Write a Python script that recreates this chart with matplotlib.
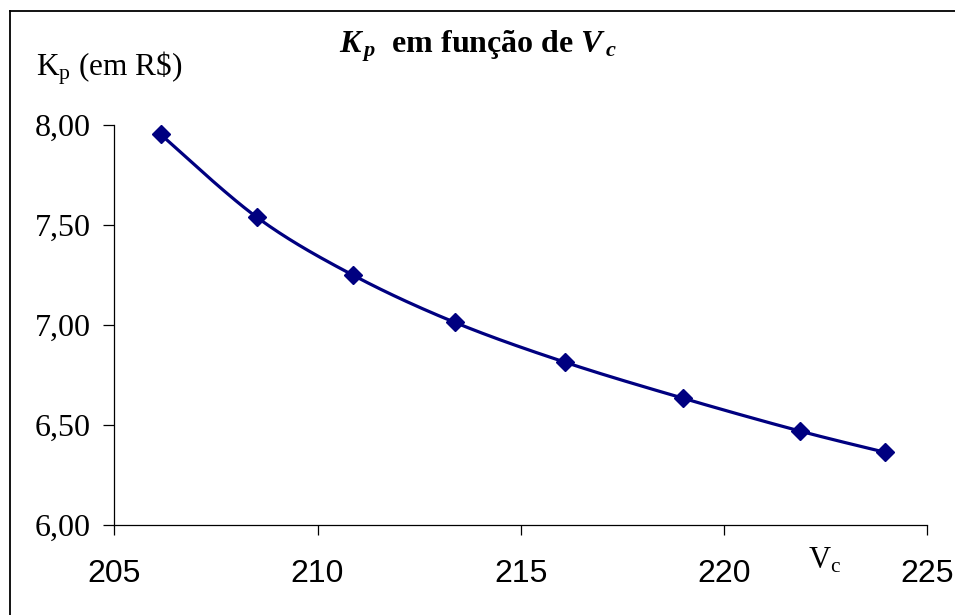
import numpy as np
import matplotlib
matplotlib.use("Agg")
import matplotlib.pyplot as plt
from matplotlib.lines import Line2D

# Kp (R$) as a function of Vc
vc = [206.14, 208.51, 210.87, 213.37, 216.09, 218.99, 221.86, 223.97]
kp = [7.953, 7.538, 7.249, 7.013, 6.813, 6.633, 6.469, 6.362]

x_ticks = [205, 210, 215, 220, 225]
y_ticks = [6.00, 6.50, 7.00, 7.50, 8.00]
y_tick_labels = ["6,00", "6,50", "7,00", "7,50", "8,00"]

plt.rcParams["mathtext.fontset"] = "custom"
plt.rcParams["mathtext.rm"] = "Liberation Serif"
plt.rcParams["mathtext.it"] = "Liberation Serif:italic"
plt.rcParams["mathtext.bf"] = "Liberation Serif:bold"
plt.rcParams["mathtext.bfit"] = "Liberation Serif:bold:italic"

NAVY = "#000080"


def smooth_curve(xs, ys, n=40):
    """Bezier smoothing through every point (tension 1/6)."""
    p = np.column_stack([xs, ys]).astype(float)
    ext = np.vstack([p[0], p, p[-1]])
    out = []
    t = np.linspace(0, 1, n)[:, None]
    for i in range(len(p) - 1):
        p0, p1 = ext[i + 1], ext[i + 2]
        c1 = p0 + (ext[i + 2] - ext[i]) / 6.0
        c2 = p1 - (ext[i + 3] - ext[i + 1]) / 6.0
        seg = ((1 - t) ** 3) * p0 + 3 * ((1 - t) ** 2) * t * c1 \
            + 3 * (1 - t) * t ** 2 * c2 + t ** 3 * p1
        out.append(seg if i == 0 else seg[1:])
    seg = np.vstack(out)
    return seg[:, 0], seg[:, 1]


fig = plt.figure(figsize=(9.55, 6.15), dpi=100)
ax = fig.add_axes([0.1197, 0.1468, 0.8513, 0.6499])

sx, sy = smooth_curve(vc, kp)
ax.plot(sx, sy, color=NAVY, lw=2.3, solid_capstyle="round", zorder=2)
ax.plot(vc, kp, linestyle="none", marker="D", markersize=9.5,
        color=NAVY, markeredgecolor=NAVY, zorder=3)

ax.set_xlim(205, 225)
ax.set_ylim(6.0, 8.0)
ax.set_xticks(x_ticks)
ax.set_xticklabels([str(v) for v in x_ticks], fontfamily="Liberation Sans",
                   fontsize=23)
ax.set_yticks(y_ticks)
ax.set_yticklabels(y_tick_labels, fontfamily="Liberation Serif", fontsize=23)
ax.tick_params(axis="x", direction="out", length=7.5, width=0.9,
               pad=17, colors="black")
ax.tick_params(axis="y", direction="out", length=8, width=0.9,
               pad=9, colors="black")

for side in ("top", "right"):
    ax.spines[side].set_visible(False)
for side in ("left", "bottom"):
    ax.spines[side].set_linewidth(0.9)
    ax.spines[side].set_color("black")

# Chart title
fig.text(0.500, 0.915,
         r"$\mathbfit{K}_{\,\mathbfit{p}}$  em função de $\mathbfit{V}_{\,\mathbfit{c}}$",
         ha="center", va="baseline", fontfamily="Liberation Serif",
         fontweight="bold", fontsize=23)

# Axis labels
fig.text(0.0375, 0.878, r"K$_{\mathrm{p}}$ (em R\$)", ha="left", va="baseline",
         fontfamily="Liberation Serif", fontsize=22.5)
fig.text(0.846, 0.075, r"V$_{\mathrm{c}}$", ha="left", va="baseline",
         fontfamily="Liberation Serif", fontsize=22)

# Frame around the chart area
fig.add_artist(Line2D([9.5 / 955, 9.5 / 955], [0, 1 - 10.5 / 615],
                      transform=fig.transFigure, color="black", lw=1.3))
fig.add_artist(Line2D([9.5 / 955, 1], [1 - 10.5 / 615, 1 - 10.5 / 615],
                      transform=fig.transFigure, color="black", lw=1.3))

fig.savefig("out.png", dpi=100, facecolor="white")
